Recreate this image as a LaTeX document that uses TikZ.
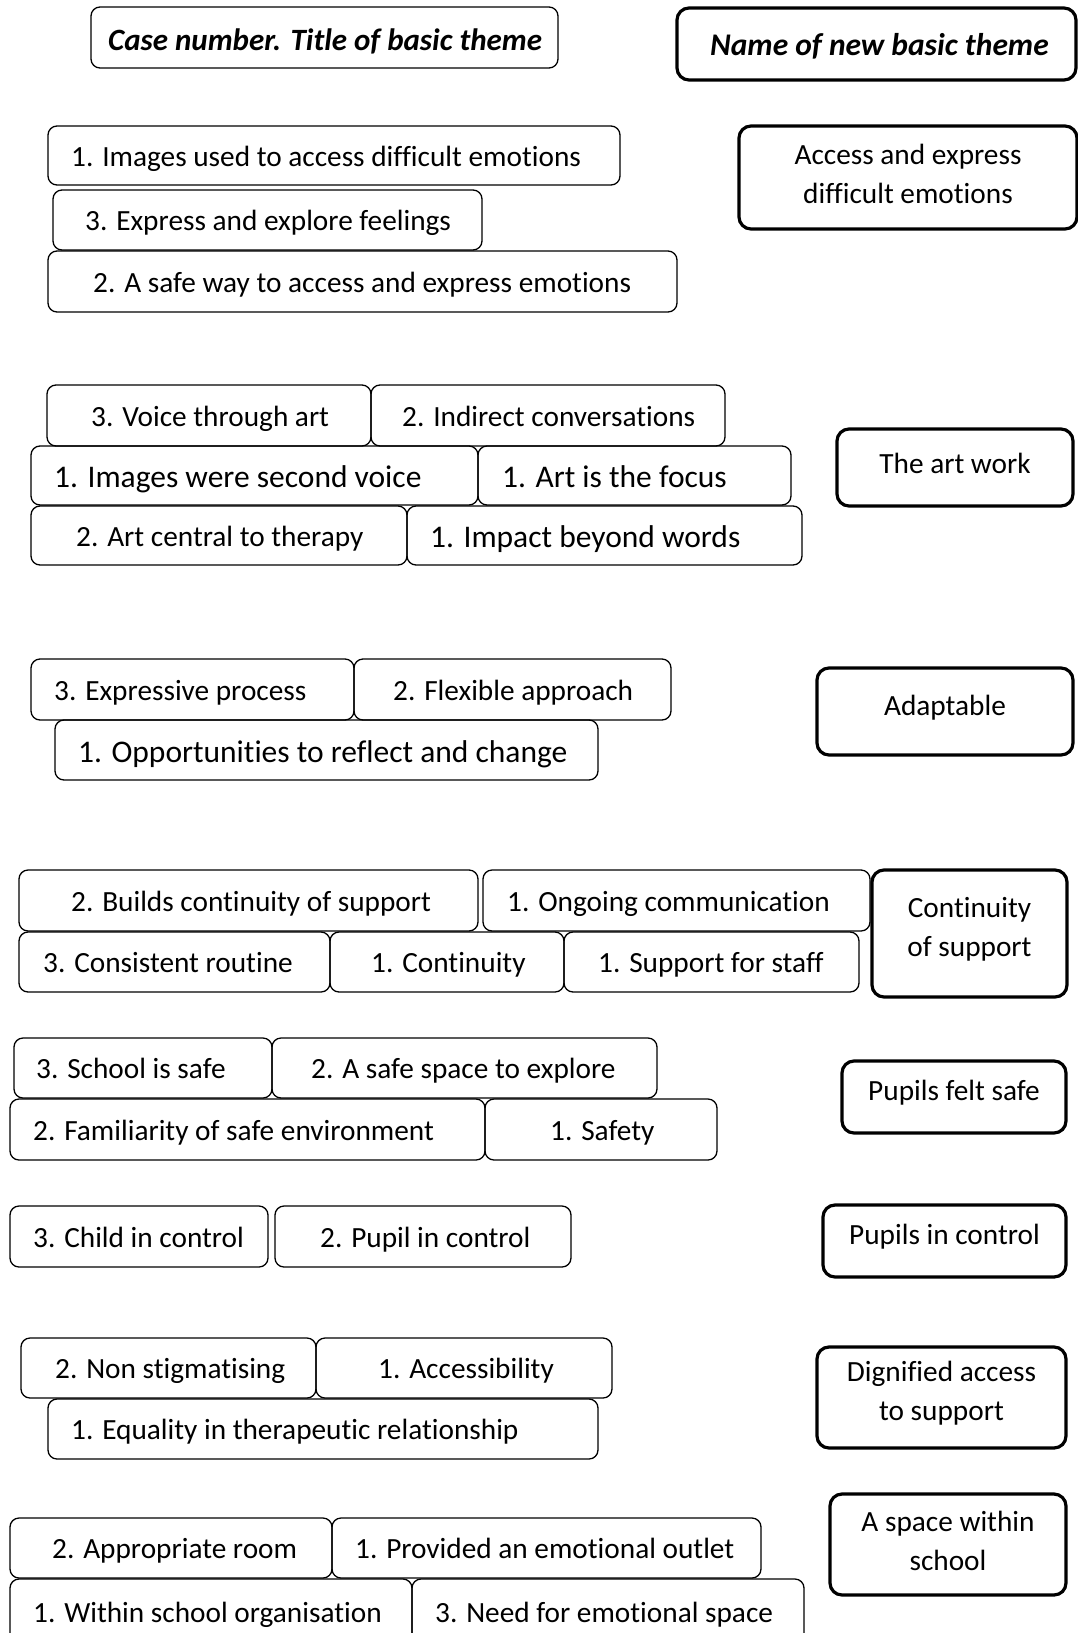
\documentclass[tikz,border=0pt]{standalone}
\usepackage{fontspec}
\setmainfont{Carlito}[Ligatures=NoCommon]

% code box: name, x1, y1, x2, y2, text left x, text, text style
\newcommand\codebox[8]{%
  \node[cbox, minimum width=#4pt-#2pt, minimum height=#5pt-#3pt] (#1) at ({(#2+#4)/2},{(#3+#5)/2}) {};
  \node[#8] (#1-t) at (#6,{(#3+#5)/2}) {#7};}
% theme box: name, x1, y1, x2, y2, text
\newcommand\themebox[6]{%
  \node[tbox, minimum width=#4pt-#2pt, minimum height=#5pt-#3pt] (#1) at ({(#2+#4)/2},{(#3+#5)/2}) {};
  \node[ttext] (#1-t) at ({(#2+#4)/2},{(#3+#5)/2-4}) {#6};}

\tikzset{
  x=1pt, y=-1pt,
  cbox/.style={draw, line width=1.3pt, rounded corners=9pt, inner sep=0pt},
  tbox/.style={draw, line width=3.2pt, rounded corners=12pt, inner sep=0pt},
  reg/.style={anchor=base west, inner sep=0pt, yshift=-10.5pt, font=\fontsize{29.3}{35}\selectfont},
  big/.style={anchor=base west, inner sep=0pt, yshift=-12pt, font=\fontsize{31.5}{38}\selectfont},
  ttext/.style={align=center, inner sep=0pt, font=\fontsize{29.3}{39}\selectfont},
  head/.style={inner sep=0pt, font=\bfseries\itshape\fontsize{31}{37}\selectfont},
}

\begin{document}
\begin{tikzpicture}
\useasboundingbox (0,0) rectangle (1078,1633);
\fill[white] (0,0) rectangle (1078,1633);
\clip (0,0) rectangle (1078,1633);

% column headings
\node[cbox, minimum width=467pt, minimum height=61pt] (hl) at (324.5,37.5) {};
\node[head, anchor=base west] (hl-t) at (108,50) {Case number. Title of basic theme};
\node[tbox, minimum width=399pt, minimum height=72pt] (hr) at (876.5,44) {};
\node[head, anchor=base east, font=\bfseries\itshape\fontsize{31.5}{37}\selectfont] (hr-t) at (1049,55) {Name of new basic theme};

% access and express difficult emotions
\codebox{a1}{48}{126}{620}{185}{71}{1. Images used to access difficult emotions}{reg}
\codebox{a2}{53}{190}{482}{250}{85}{3. Express and explore feelings}{reg}
\codebox{a3}{48}{251}{677}{312}{93}{2. A safe way to access and express emotions}{reg}
\themebox{ta}{739}{126}{1077}{229}{Access and express\\difficult emotions}

% the art work
\codebox{b1}{47}{385}{371}{446}{91}{3. Voice through art}{reg}
\codebox{b2}{371}{385}{725}{446}{402}{2. Indirect conversations}{reg}
\codebox{b3}{31}{446}{478}{505}{54}{1. Images were second voice}{big}
\codebox{b4}{478}{446}{791}{505}{502}{1. Art is the focus}{big}
\codebox{b5}{31}{506}{407}{565}{76}{2. Art central to therapy}{reg}
\codebox{b6}{407}{506}{802}{565}{430}{1. Impact beyond words}{big}
\themebox{tb}{837}{429}{1073}{506}{The art work}

% adaptable
\codebox{c1}{31}{659}{354}{720}{54}{3. Expressive process}{reg}
\codebox{c2}{354}{659}{671}{720}{393}{2. Flexible approach}{reg}
\codebox{c3}{55}{720}{598}{780}{78}{1. Opportunities to reflect and change}{big}
\themebox{tc}{817}{668}{1073}{755}{Adaptable}

% continuity of support
\codebox{d1}{19}{870}{478}{931}{71}{2. Builds continuity of support}{reg}
\codebox{d2}{483}{870}{870}{931}{507}{1. Ongoing communication}{reg}
\codebox{d3}{19}{932}{330}{992}{43}{3. Consistent routine}{reg}
\codebox{d4}{330}{932}{564}{992}{371}{1. Continuity}{reg}
\codebox{d5}{564}{932}{859}{992}{598}{1. Support for staff}{reg}
\themebox{td}{872}{870}{1067}{997}{Continuity\\of support}

% pupils felt safe
\codebox{e1}{14}{1038}{272}{1098}{36}{3. School is safe}{reg}
\codebox{e2}{272}{1038}{657}{1098}{311}{2. A safe space to explore}{reg}
\codebox{e3}{10}{1099}{485}{1160}{33}{2. Familiarity of safe environment}{reg}
\codebox{e4}{485}{1099}{717}{1160}{550}{1. Safety}{reg}
\themebox{te}{842}{1061}{1066}{1133}{Pupils felt safe}

% pupils in control
\codebox{f1}{10}{1206}{268}{1267}{33}{3. Child in control}{reg}
\codebox{f2}{275}{1206}{571}{1267}{320}{2. Pupil in control}{reg}
\themebox{tf}{823}{1205}{1066}{1277}{Pupils in control}

% dignified access to support
\codebox{g1}{21}{1338}{316}{1398}{55}{2. Non stigmatising}{reg}
\codebox{g2}{316}{1338}{612}{1398}{378}{1. Accessibility}{reg}
\codebox{g3}{48}{1399}{598}{1459}{71}{1. Equality in therapeutic relationship}{reg}
\themebox{tg}{817}{1347}{1066}{1448}{Dignified access\\to support}

% a space within school
\codebox{h1}{10}{1518}{332}{1578}{52}{2. Appropriate room}{reg}
\codebox{h2}{332}{1518}{761}{1578}{355}{1. Provided an emotional outlet}{reg}
\codebox{h3}{10}{1579}{412}{1645}{33}{1. Within school organisation}{reg}
\codebox{h4}{412}{1579}{804}{1645}{435}{3. Need for emotional space}{reg}
\themebox{th}{830}{1494}{1066}{1595}{A space within\\school}
\end{tikzpicture}
\end{document}
